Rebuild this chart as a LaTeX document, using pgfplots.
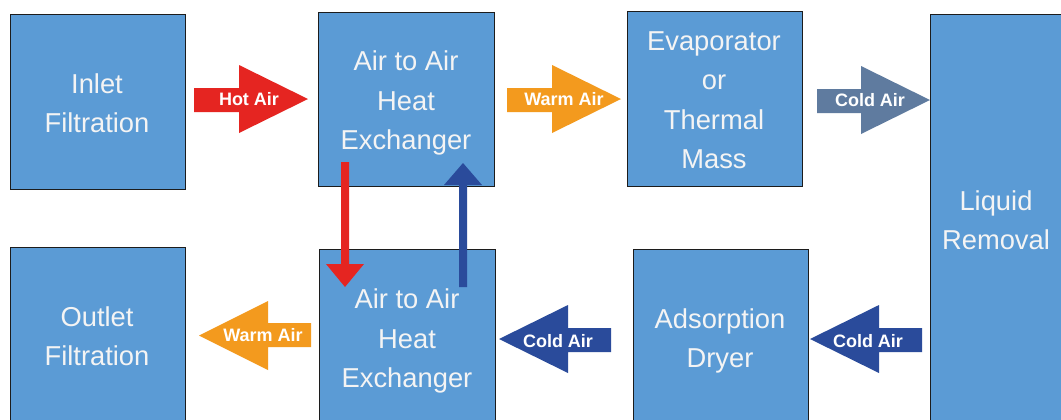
\documentclass[border=0pt]{standalone}
\usepackage{pgfplots}
\pgfplotsset{compat=1.18}
\usepackage{fontspec}
\setmainfont{Liberation Sans}
\definecolor{boxblue}{HTML}{5B9BD5}
\definecolor{boxedge}{HTML}{1C1C1C}
\definecolor{hotred}{HTML}{E52521}
\definecolor{warmorange}{HTML}{F39A1E}
\definecolor{coldgrey}{HTML}{5F7B9F}
\definecolor{colddark}{HTML}{2A4B9B}
\definecolor{boxtextcol}{HTML}{F4F4F4}
\tikzset{
  boxtext/.style={text=boxtextcol, align=center, font=\fontsize{20.5}{29.6}\selectfont},
  arrtext/.style={text=white, font=\fontsize{13.5}{16}\selectfont\bfseries},
}
\begin{document}
\begin{tikzpicture}
\begin{axis}[
  width=795.75pt, height=314.25pt, scale only axis,
  xmin=0, xmax=1061, ymin=0, ymax=419, y dir=reverse,
  hide axis, no markers,
  every axis plot/.append style={line join=miter},
]
% background
\addplot[draw=none, fill=white] coordinates {(0,0)(1061,0)(1061,419)(0,419)} -- cycle;
% boxes
\addplot[fill=boxblue, draw=boxedge, line width=0.75pt] coordinates {(10,14)(185,14)(185,189)(10,189)} -- cycle;
\addplot[fill=boxblue, draw=boxedge, line width=0.75pt] coordinates {(318,12)(494,12)(494,186)(318,186)} -- cycle;
\addplot[fill=boxblue, draw=boxedge, line width=0.75pt] coordinates {(627,11)(802,11)(802,186)(627,186)} -- cycle;
\addplot[fill=boxblue, draw=boxedge, line width=0.75pt] coordinates {(930,14)(1075,14)(1075,430)(930,430)} -- cycle;
\addplot[fill=boxblue, draw=boxedge, line width=0.75pt] coordinates {(10,247)(185,247)(185,430)(10,430)} -- cycle;
\addplot[fill=boxblue, draw=boxedge, line width=0.75pt] coordinates {(319,249)(495,249)(495,430)(319,430)} -- cycle;
\addplot[fill=boxblue, draw=boxedge, line width=0.75pt] coordinates {(633,249)(808,249)(808,430)(633,430)} -- cycle;
% right arrows
\addplot[fill=hotred, draw=none] coordinates {(194,88)(239,88)(239,65)(308,99)(239,133)(239,112)(194,112)} -- cycle;
\addplot[fill=warmorange, draw=none] coordinates {(507,88)(552,88)(552,65)(621,99)(552,133)(552,112)(507,112)} -- cycle;
\addplot[fill=coldgrey, draw=none] coordinates {(817,89)(861,89)(861,66)(930,100)(861,134)(861,113)(817,113)} -- cycle;
% left arrows
\addplot[fill=warmorange, draw=none] coordinates {(311,323)(268,323)(268,301)(199,335.5)(268,370)(268,347)(311,347)} -- cycle;
\addplot[fill=colddark, draw=none] coordinates {(611,328)(568,328)(568,305)(499,339)(568,373)(568,352)(611,352)} -- cycle;
\addplot[fill=colddark, draw=none] coordinates {(922,328)(879,328)(879,305)(810,339)(879,373)(879,352)(922,352)} -- cycle;
% vertical arrows
\addplot[fill=hotred, draw=none] coordinates {(341,162)(349,162)(349,264)(364,264)(345,287)(326,264)(341,264)} -- cycle;
\addplot[fill=colddark, draw=none] coordinates {(459,287)(467,287)(467,185)(482,185)(463,163)(444,185)(459,185)} -- cycle;
% box labels
\node[boxtext] at (axis cs:97,103) {Inlet\\Filtration};
\node[boxtext] at (axis cs:406,103) {Air to Air\\Heat\\Exchanger};
\node[boxtext] at (axis cs:714,100) {Evaporator\\or\\Thermal\\Mass};
\node[boxtext] at (axis cs:996,220) {Liquid\\Removal};
\node[boxtext] at (axis cs:97,336) {Outlet\\Filtration};
\node[boxtext] at (axis cs:407,341) {Air to Air\\Heat\\Exchanger};
\node[boxtext] at (axis cs:720,341) {Adsorption\\Dryer};
% arrow labels
\node[arrtext] at (axis cs:249,99) {Hot Air};
\node[arrtext] at (axis cs:564,99) {Warm Air};
\node[arrtext] at (axis cs:870,100) {Cold Air};
\node[arrtext] at (axis cs:263,335) {Warm Air};
\node[arrtext] at (axis cs:558,341) {Cold Air};
\node[arrtext] at (axis cs:868,341) {Cold Air};
\end{axis}
\end{tikzpicture}
\end{document}
